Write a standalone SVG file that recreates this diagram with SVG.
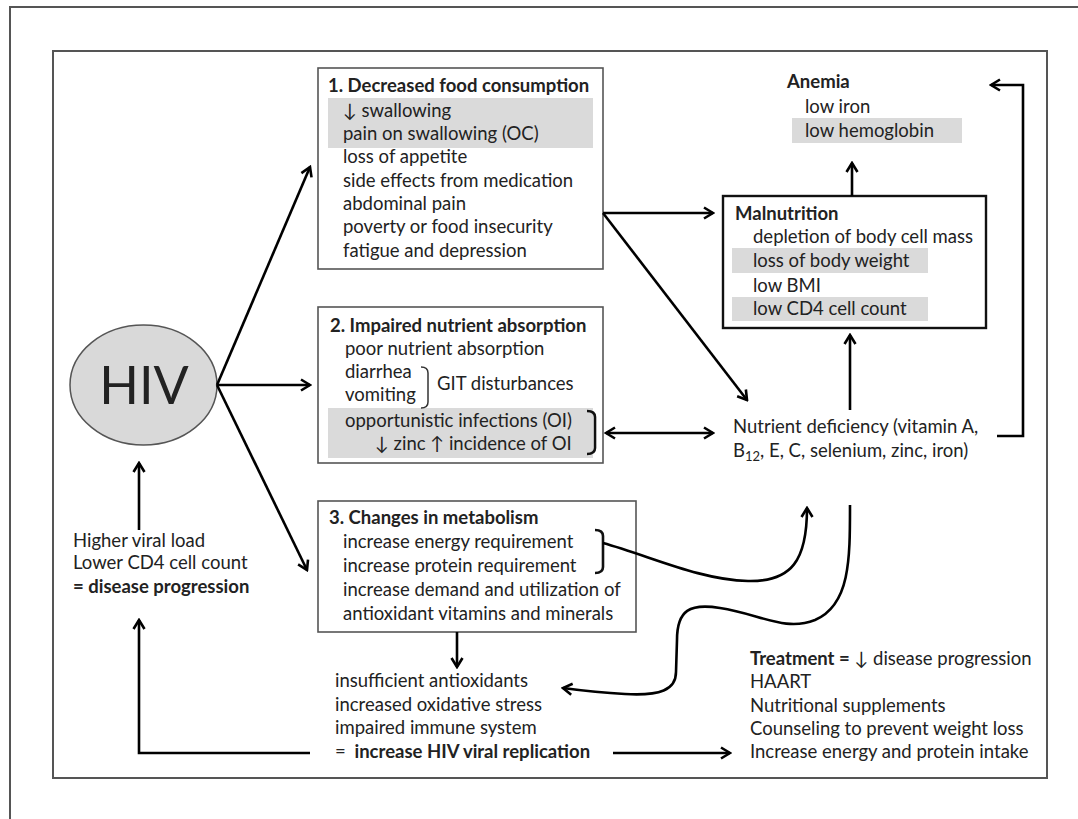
<svg xmlns="http://www.w3.org/2000/svg" width="1078" height="819" viewBox="0 0 1078 819">
<defs>
<style>
text{font-family:Lato,"DejaVu Sans",sans-serif;font-size:18.5px;fill:#222}
.b{font-weight:bold}
.box{fill:#fff;stroke:#555;stroke-width:1.6}
.band{fill:#dadada}
.ln{fill:none;stroke:#000;stroke-width:2.6}
.br{fill:none;stroke:#111;stroke-width:2.6}
.brt{fill:none;stroke:#333;stroke-width:1.5}
</style>
<marker id="arr" viewBox="0 0 14 14" refX="12" refY="7" markerWidth="14" markerHeight="14" markerUnits="userSpaceOnUse" orient="auto-start-reverse">
<path d="M3,1.5 L12,7 L3,12.5" fill="none" stroke="#000" stroke-width="2.6" stroke-linejoin="miter"/>
</marker>
</defs>
<rect width="1078" height="819" fill="#fff"/>
<path d="M10,819 L10,7 L1078,7" fill="none" stroke="#555" stroke-width="2"/>
<rect x="53" y="51" width="994" height="727" fill="none" stroke="#555" stroke-width="2"/>

<g id="hiv">
<ellipse cx="143.5" cy="385" rx="73.5" ry="60" fill="#d9d9d9" stroke="#555" stroke-width="1.5"/>
<text x="144" y="404" text-anchor="middle" style="font-size:52px">HIV</text>
</g>

<g id="progression">
<text x="73" y="547">Higher viral load</text>
<text x="73" y="569">Lower CD4 cell count</text>
<text x="73" y="593" class="b">= disease progression</text>
</g>

<g id="box1">
<rect class="box" x="318" y="68" width="285" height="201"/>
<rect class="band" x="328" y="98" width="265" height="50"/>
<text x="328" y="92" class="b">1. Decreased food consumption</text>
<text x="343" y="117">↓ swallowing</text>
<text x="343" y="140">pain on swallowing (OC)</text>
<text x="343" y="163">loss of appetite</text>
<text x="343" y="187">side effects from medication</text>
<text x="343" y="210">abdominal pain</text>
<text x="343" y="233">poverty or food insecurity</text>
<text x="343" y="257">fatigue and depression</text>
</g>

<g id="box2">
<rect class="box" x="318" y="307" width="285" height="156"/>
<rect class="band" x="328" y="408" width="265" height="50"/>
<text x="330" y="332" class="b">2. Impaired nutrient absorption</text>
<text x="345" y="355">poor nutrient absorption</text>
<text x="345" y="378">diarrhea</text>
<text x="345" y="401">vomiting</text>
<path class="brt" d="M421,367 Q428,367 428,373 L428,402 Q428,408 421,408"/>
<text x="437" y="390">GIT disturbances</text>
<text x="345" y="427">opportunistic infections (OI)</text>
<text x="375" y="450">↓ zinc ↑ incidence of OI</text>
<path class="br" d="M587,411 Q595,411 595,417 L595,448 Q595,454 587,454"/>
</g>

<g id="box3">
<rect class="box" x="318" y="501" width="318" height="131"/>
<text x="329" y="524" class="b">3. Changes in metabolism</text>
<text x="343" y="548">increase energy requirement</text>
<text x="343" y="572">increase protein requirement</text>
<text x="343" y="596">increase demand and utilization of</text>
<text x="343" y="620">antioxidant vitamins and minerals</text>
<path class="br" d="M595,530 Q603,530 603,536 L603,567 Q603,573 595,573"/>
</g>

<g id="anemia">
<rect class="band" x="792" y="118" width="170" height="25"/>
<text x="787" y="88" class="b">Anemia</text>
<text x="805" y="113">low iron</text>
<text x="805" y="137">low hemoglobin</text>
</g>

<g id="malnutrition">
<rect x="723" y="196" width="263" height="132" fill="#fff" stroke="#111" stroke-width="2.4"/>
<rect class="band" x="732" y="248" width="196" height="25"/>
<rect class="band" x="732" y="297" width="196" height="24"/>
<text x="735" y="220" class="b">Malnutrition</text>
<text x="753" y="243">depletion of body cell mass</text>
<text x="753" y="267">loss of body weight</text>
<text x="753" y="292">low BMI</text>
<text x="753" y="315">low CD4 cell count</text>
</g>

<g id="deficiency">
<text x="733" y="433">Nutrient deficiency (vitamin A,</text>
<text x="733" y="457">B<tspan dy="4" style="font-size:13px">12</tspan><tspan dy="-4">, E, C, selenium, zinc, iron)</tspan></text>
</g>

<g id="oxidative">
<text x="335" y="687">insufficient antioxidants</text>
<text x="335" y="711">increased oxidative stress</text>
<text x="335" y="734">impaired immune system</text>
<text x="335" y="758">= <tspan class="b" dx="4">increase HIV viral replication</tspan></text>
</g>

<g id="treatment">
<text x="750" y="665"><tspan class="b">Treatment =</tspan> ↓ disease progression</text>
<text x="750" y="688">HAART</text>
<text x="750" y="712">Nutritional supplements</text>
<text x="750" y="735">Counseling to prevent weight loss</text>
<text x="750" y="758">Increase energy and protein intake</text>
</g>

<g id="connectors">
<path class="ln" d="M217,385 L310,167" marker-end="url(#arr)"/>
<path class="ln" d="M217,385 L310,385" marker-end="url(#arr)"/>
<path class="ln" d="M217,385 L307,570" marker-end="url(#arr)"/>
<path class="ln" d="M139,530 L139,463" marker-end="url(#arr)"/>
<path class="ln" d="M603,213 L713,213" marker-end="url(#arr)"/>
<path class="ln" d="M603,213 L747,400" marker-end="url(#arr)"/>
<path class="ln" d="M852,196 L852,163" marker-end="url(#arr)"/>
<path class="ln" d="M850,410 L850,335" marker-end="url(#arr)"/>
<path class="ln" d="M606,433 L713,433" marker-start="url(#arr)" marker-end="url(#arr)"/>
<path class="ln" d="M997,436 L1023,436 L1023,85 L991,85" marker-end="url(#arr)"/>
<path class="ln" d="M603,543 C650,556 700,580 748,581 C792,582 807,560 807,508" marker-end="url(#arr)"/>
<path class="ln" d="M850,505 C850,560 850,605 815,620 C785,632 760,614 720,608 C690,603 677,610 677,640 L676,672 C676,690 660,696 625,694 C605,693 585,691 563,688" marker-end="url(#arr)"/>
<path class="ln" d="M457,632 L457,667" marker-end="url(#arr)"/>
<path class="ln" d="M310,753 L139,753 L139,620" marker-end="url(#arr)"/>
<path class="ln" d="M613,753 L730,753" marker-end="url(#arr)"/>
</g>
</svg>
